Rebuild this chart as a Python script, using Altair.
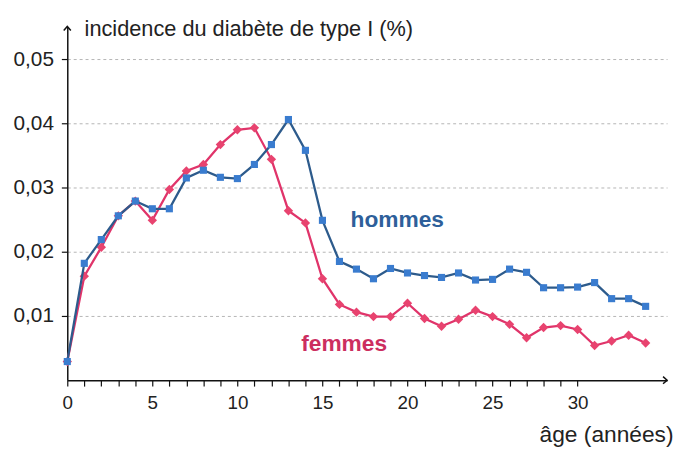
import altair as alt
import pandas as pd

ages = list(range(35))
hommes = [0.0029, 0.0182, 0.0219, 0.0256, 0.0279, 0.0267, 0.0267, 0.0315, 0.0327, 0.0316,
          0.0314, 0.0336, 0.0367, 0.0406, 0.0358, 0.0249, 0.0185, 0.0173, 0.0158, 0.0174,
          0.0167, 0.0163, 0.0160, 0.0167, 0.0156, 0.0157, 0.0173, 0.0168, 0.0144, 0.0144,
          0.0145, 0.0152, 0.0127, 0.0127, 0.0115]
femmes = [0.0029, 0.0162, 0.0207, 0.0256, 0.0279, 0.0249, 0.0297, 0.0326, 0.0336, 0.0367,
          0.0390, 0.0393, 0.0344, 0.0264, 0.0245, 0.0158, 0.0118, 0.0106, 0.0099, 0.0099,
          0.0120, 0.0096, 0.0084, 0.0095, 0.0109, 0.0099, 0.0087, 0.0066, 0.0082, 0.0085,
          0.0079, 0.0054, 0.0061, 0.0070, 0.0058]
y_ticks = [0.01, 0.02, 0.03, 0.04, 0.05]
x_ticks = list(range(0, 31))
label_text = ["hommes", "femmes"]
label_age = [16.65, 13.75]
label_val = [0.0238, 0.0046]

X_MAX = 35.26
Y_MAX = 0.0551
FONT = "Liberation Sans, Arial, sans-serif"

df_h = pd.DataFrame({"age": ages, "v": hommes})
df_f = pd.DataFrame({"age": ages, "v": femmes})
df_lab_h = pd.DataFrame({"age": [label_age[0]], "v": [label_val[0]], "t": [label_text[0]]})
df_lab_f = pd.DataFrame({"age": [label_age[1]], "v": [label_val[1]], "t": [label_text[1]]})
df_arrow_y = pd.DataFrame({"age": [0], "v": [Y_MAX]})
df_arrow_x = pd.DataFrame({"age": [X_MAX], "v": [0]})

X = alt.X(
    "age:Q",
    scale=alt.Scale(domain=[0, X_MAX], nice=False, zero=False),
    axis=alt.Axis(
        values=x_ticks,
        labelExpr="datum.value % 5 == 0 ? format(datum.value, 'd') : ''",
        labelOverlap=False,
        labelFlush=False,
        tickSize=6,
        tickWidth=1.2,
        tickColor="#111",
        domainColor="#111",
        domainWidth=1.5,
        labelFont=FONT,
        labelFontSize=19,
        labelColor="#222",
        labelPadding=8,
        grid=False,
        title="âge (années)",
        titleFont=FONT,
        titleFontSize=23,
        titleFontWeight="normal",
        titleColor="#222",
        titleAlign="right",
        titleBaseline="alphabetic",
        titleX=613,
        titleY=62,
    ),
)
Y = alt.Y(
    "v:Q",
    scale=alt.Scale(domain=[0, Y_MAX], nice=False, zero=True),
    axis=alt.Axis(
        values=y_ticks,
        labelExpr="replace(format(datum.value, '.2f'), '.', ',')",
        labelOverlap=False,
        tickSize=6,
        tickWidth=1.2,
        tickColor="#111",
        domainColor="#111",
        domainWidth=1.5,
        labelFont=FONT,
        labelFontSize=21,
        labelColor="#222",
        labelPadding=8,
        grid=True,
        gridDash=[3, 3],
        gridColor="#b5b5b5",
        gridWidth=1,
        title="incidence du diabète de type I (%)",
        titleFont=FONT,
        titleFontSize=22,
        titleFontWeight="normal",
        titleColor="#222",
        titleAngle=0,
        titleAlign="left",
        titleBaseline="alphabetic",
        titleX=17,
        titleY=9,
    ),
)

red = alt.Chart(df_f).mark_line(
    color="#e0346a", strokeWidth=2.3,
    point=alt.OverlayMarkDef(shape="diamond", filled=True, color="#e8436f", size=90),
).encode(x=X, y=Y)

blue = alt.Chart(df_h).mark_line(
    color="#2d5b8c", strokeWidth=2.3,
    point=alt.OverlayMarkDef(shape="square", filled=True, color="#3a7ccf", size=52),
).encode(x=X, y=Y)

lab_h = alt.Chart(df_lab_h).mark_text(
    align="left", baseline="alphabetic", font=FONT, fontSize=23, fontWeight="bold", color="#2e5f9a"
).encode(x=X, y=Y, text="t:N")

lab_f = alt.Chart(df_lab_f).mark_text(
    align="left", baseline="alphabetic", font=FONT, fontSize=23, fontWeight="bold", color="#cc2e5f"
).encode(x=X, y=Y, text="t:N")

arrow_y = alt.Chart(df_arrow_y).mark_point(
    shape="M -0.8 0.9 L 0 0 L 0.8 0.9", filled=False, stroke="#111", strokeWidth=1.5, size=81, opacity=1
).encode(x=X, y=Y)

arrow_x = alt.Chart(df_arrow_x).mark_point(
    shape="M -0.9 -0.8 L 0 0 L -0.9 0.8", filled=False, stroke="#111", strokeWidth=1.5, size=81, opacity=1
).encode(x=X, y=Y)

chart = alt.layer(red, blue, lab_h, lab_f, arrow_y, arrow_x).properties(
    width=607,
    height=358,
    padding={"left": 60, "top": 16, "right": 6, "bottom": 68},
    autosize=alt.AutoSizeParams(type="none"),
    background="white",
).configure(font=FONT).configure_view(stroke=None)

chart.save("out.html", embed_options={"renderer": "svg", "actions": False})
